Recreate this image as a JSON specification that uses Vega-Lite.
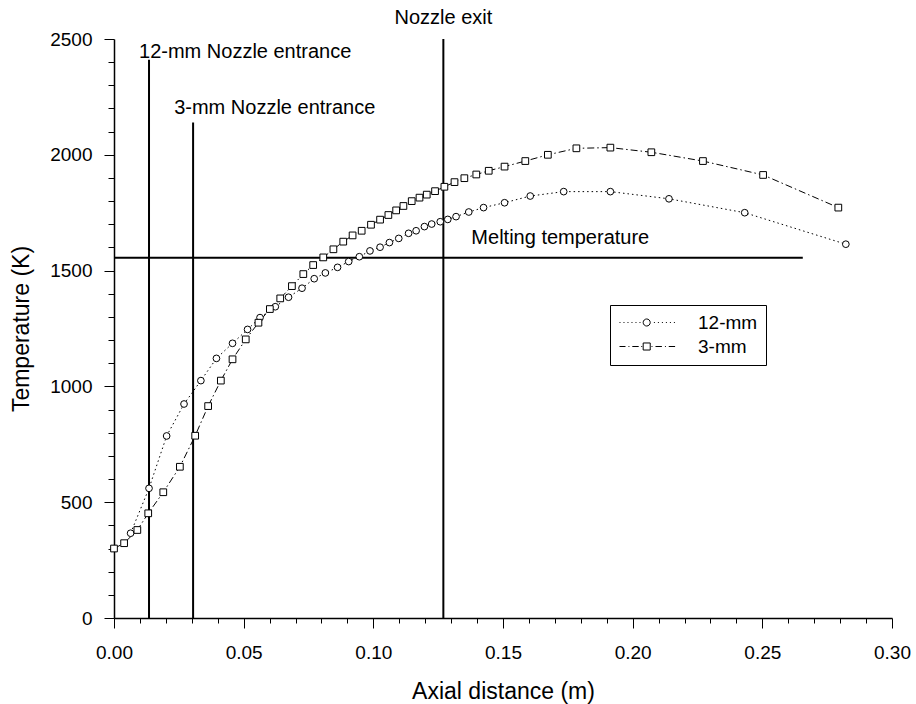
{
  "$schema": "https://vega.github.io/schema/vega-lite/v6.json",
  "width": 778,
  "height": 579,
  "autosize": {"type": "none"},
  "padding": {"left": 114, "top": 39, "right": 24, "bottom": 86},
  "background": "white",
  "config": {"view": {"stroke": null}, "font": "Liberation Sans", "axis": {"labelOverlap": false, "labelFlush": false}},
  "datasets": {
    "curves": [
      {"series": "12-mm", "x": 0.0064, "T": 366},
      {"series": "12-mm", "x": 0.0135, "T": 560},
      {"series": "12-mm", "x": 0.0203, "T": 786},
      {"series": "12-mm", "x": 0.0270, "T": 924},
      {"series": "12-mm", "x": 0.0335, "T": 1025},
      {"series": "12-mm", "x": 0.0395, "T": 1121},
      {"series": "12-mm", "x": 0.0457, "T": 1186},
      {"series": "12-mm", "x": 0.0515, "T": 1246},
      {"series": "12-mm", "x": 0.0563, "T": 1297},
      {"series": "12-mm", "x": 0.0622, "T": 1344},
      {"series": "12-mm", "x": 0.0673, "T": 1385},
      {"series": "12-mm", "x": 0.0725, "T": 1424},
      {"series": "12-mm", "x": 0.0772, "T": 1465},
      {"series": "12-mm", "x": 0.0815, "T": 1490},
      {"series": "12-mm", "x": 0.0862, "T": 1514},
      {"series": "12-mm", "x": 0.0905, "T": 1539},
      {"series": "12-mm", "x": 0.0946, "T": 1560},
      {"series": "12-mm", "x": 0.0987, "T": 1585},
      {"series": "12-mm", "x": 0.1026, "T": 1601},
      {"series": "12-mm", "x": 0.1062, "T": 1621},
      {"series": "12-mm", "x": 0.1098, "T": 1639},
      {"series": "12-mm", "x": 0.1136, "T": 1661},
      {"series": "12-mm", "x": 0.1165, "T": 1672},
      {"series": "12-mm", "x": 0.1197, "T": 1690},
      {"series": "12-mm", "x": 0.1225, "T": 1701},
      {"series": "12-mm", "x": 0.1258, "T": 1711},
      {"series": "12-mm", "x": 0.1287, "T": 1721},
      {"series": "12-mm", "x": 0.1319, "T": 1733},
      {"series": "12-mm", "x": 0.1368, "T": 1753},
      {"series": "12-mm", "x": 0.1425, "T": 1772},
      {"series": "12-mm", "x": 0.1506, "T": 1793},
      {"series": "12-mm", "x": 0.1605, "T": 1822},
      {"series": "12-mm", "x": 0.1734, "T": 1841},
      {"series": "12-mm", "x": 0.1914, "T": 1841},
      {"series": "12-mm", "x": 0.2140, "T": 1810},
      {"series": "12-mm", "x": 0.2432, "T": 1750},
      {"series": "12-mm", "x": 0.2822, "T": 1614},
      {"series": "3-mm", "x": 0.0000, "T": 300},
      {"series": "3-mm", "x": 0.0039, "T": 323},
      {"series": "3-mm", "x": 0.0090, "T": 380},
      {"series": "3-mm", "x": 0.0132, "T": 452},
      {"series": "3-mm", "x": 0.0190, "T": 543},
      {"series": "3-mm", "x": 0.0254, "T": 653},
      {"series": "3-mm", "x": 0.0313, "T": 787},
      {"series": "3-mm", "x": 0.0363, "T": 915},
      {"series": "3-mm", "x": 0.0412, "T": 1025},
      {"series": "3-mm", "x": 0.0457, "T": 1117},
      {"series": "3-mm", "x": 0.0508, "T": 1203},
      {"series": "3-mm", "x": 0.0557, "T": 1275},
      {"series": "3-mm", "x": 0.0601, "T": 1334},
      {"series": "3-mm", "x": 0.0641, "T": 1380},
      {"series": "3-mm", "x": 0.0686, "T": 1433},
      {"series": "3-mm", "x": 0.0730, "T": 1485},
      {"series": "3-mm", "x": 0.0768, "T": 1524},
      {"series": "3-mm", "x": 0.0807, "T": 1557},
      {"series": "3-mm", "x": 0.0846, "T": 1592},
      {"series": "3-mm", "x": 0.0884, "T": 1625},
      {"series": "3-mm", "x": 0.0920, "T": 1652},
      {"series": "3-mm", "x": 0.0955, "T": 1672},
      {"series": "3-mm", "x": 0.0991, "T": 1698},
      {"series": "3-mm", "x": 0.1026, "T": 1720},
      {"series": "3-mm", "x": 0.1058, "T": 1740},
      {"series": "3-mm", "x": 0.1088, "T": 1760},
      {"series": "3-mm", "x": 0.1116, "T": 1779},
      {"series": "3-mm", "x": 0.1148, "T": 1800},
      {"series": "3-mm", "x": 0.1178, "T": 1815},
      {"series": "3-mm", "x": 0.1206, "T": 1828},
      {"series": "3-mm", "x": 0.1238, "T": 1843},
      {"series": "3-mm", "x": 0.1274, "T": 1862},
      {"series": "3-mm", "x": 0.1313, "T": 1882},
      {"series": "3-mm", "x": 0.1351, "T": 1899},
      {"series": "3-mm", "x": 0.1397, "T": 1915},
      {"series": "3-mm", "x": 0.1445, "T": 1931},
      {"series": "3-mm", "x": 0.1506, "T": 1949},
      {"series": "3-mm", "x": 0.1586, "T": 1973},
      {"series": "3-mm", "x": 0.1673, "T": 2000},
      {"series": "3-mm", "x": 0.1783, "T": 2028},
      {"series": "3-mm", "x": 0.1914, "T": 2031},
      {"series": "3-mm", "x": 0.2072, "T": 2011},
      {"series": "3-mm", "x": 0.2271, "T": 1973},
      {"series": "3-mm", "x": 0.2503, "T": 1913},
      {"series": "3-mm", "x": 0.2793, "T": 1772}
    ],
    "refLines": [
      {"x": 0.0135, "x2": 0.0135, "T": 0, "T2": 2410},
      {"x": 0.0305, "x2": 0.0305, "T": 0, "T2": 2140},
      {"x": 0.127, "x2": 0.127, "T": 0, "T2": 2500},
      {"x": 0, "x2": 0.2656, "T": 1555, "T2": 1555}
    ],
    "notes": [
      {"label": "12-mm Nozzle entrance", "x": 0.00965, "T": 2444},
      {"label": "3-mm Nozzle entrance", "x": 0.0232, "T": 2202},
      {"label": "Melting temperature", "x": 0.1378, "T": 1641}
    ],
    "noteTop": [
      {"label": "Nozzle exit", "x": 0.127, "T": 2591}
    ]
  },
  "encoding": {
    "x": {
      "field": "x", "type": "quantitative", "title": "Axial distance (m)",
      "scale": {"domain": [0, 0.3], "nice": false, "zero": false},
      "axis": {
        "values": [0,0.01,0.02,0.03,0.04,0.05,0.06,0.07,0.08,0.09,0.1,0.11,0.12,0.13,0.14,0.15,0.16,0.17,0.18,0.19,0.2,0.21,0.22,0.23,0.24,0.25,0.26,0.27,0.28,0.29,0.3],
        "labelExpr": "abs(datum.value*20 - round(datum.value*20)) < 0.001 ? format(datum.value, '.2f') : ''",
        "tickSize": {"condition": {"test": "abs(datum.value*20 - round(datum.value*20)) < 0.001", "value": 10}, "value": 5},
        "labelPadding": 15,
        "labelFontSize": 19, "labelColor": "black", "labelFont": "Liberation Sans",
        "labelFlush": false, "labelOverlap": false,
        "tickColor": "black", "tickWidth": 1, "domainColor": "black", "domainWidth": 1.5,
        "grid": false,
        "titleFontSize": 23, "titleFontWeight": "normal", "titleColor": "black", "titleFont": "Liberation Sans", "titlePadding": 18
      }
    },
    "y": {
      "field": "T", "type": "quantitative", "title": "Temperature (K)",
      "scale": {"domain": [0, 2500], "nice": false},
      "axis": {
        "values": [0,100,200,300,400,500,600,700,800,900,1000,1100,1200,1300,1400,1500,1600,1700,1800,1900,2000,2100,2200,2300,2400,2500],
        "labelExpr": "datum.value % 500 === 0 ? format(datum.value, 'd') : ''",
        "tickSize": {"condition": {"test": "datum.value % 500 === 0", "value": 10}, "value": 6},
        "labelPadding": 12,
        "labelFontSize": 19, "labelColor": "black", "labelFont": "Liberation Sans",
        "labelFlush": false, "labelOverlap": false,
        "tickColor": "black", "tickWidth": 1, "domainColor": "black", "domainWidth": 1.5,
        "grid": false,
        "titleFontSize": 23, "titleFontWeight": "normal", "titleColor": "black", "titleFont": "Liberation Sans", "titlePadding": 16
      }
    }
  },
  "resolve": {"scale": {"shape": "independent"}},
  "layer": [
    {
      "data": {"name": "refLines"},
      "mark": {"type": "rule", "color": "black", "strokeWidth": 2},
      "encoding": {
        "x2": {"field": "x2"},
        "y2": {"field": "T2"}
      }
    },
    {
      "data": {"name": "curves"},
      "mark": {"type": "line", "color": "black", "strokeWidth": 1},
      "encoding": {
        "strokeDash": {
          "field": "series", "type": "nominal",
          "scale": {"domain": ["12-mm", "3-mm"], "range": [[1.5, 3], [7, 3, 1.5, 3]]},
          "legend": null
        }
      }
    },
    {
      "data": {"name": "curves"},
      "mark": {"type": "point", "filled": true, "fill": "white", "stroke": "black", "strokeWidth": 1, "opacity": 1},
      "encoding": {
        "shape": {
          "field": "series", "type": "nominal",
          "scale": {"domain": ["12-mm", "3-mm"], "range": ["circle", "square"]},
          "legend": null
        },
        "size": {"value": 45}
      }
    },
    {
      "data": {"values": []},
      "mark": {"type": "point", "filled": false, "color": "black", "strokeWidth": 1, "opacity": 1},
      "encoding": {
        "shape": {
          "field": "series", "type": "nominal",
          "scale": {
            "domain": ["12-mm", "3-mm"],
            "range": [
              "M-1,0h0.12M-0.5,0h0.12M0,0h0.12M0.5,0h0.12M1,0h0.12M1.5,0h0.12M3.3,0h0.12M3.8,0h0.12M4.3,0h0.12M4.8,0h0.12M5.3,0h0.12M5.8,0h0.12M2.84,0A0.44,0.44 0 1 1 1.96,0A0.44,0.44 0 1 1 2.84,0Z",
              "M-1,0H-0.25M0.12,0h0.12M0.6,0H1.4M1.72,0h0.12M1.96,-0.44H2.84V0.44H1.96ZM3.0,0h0.12M3.5,0H4.3M4.68,0h0.12M5.16,0H5.95"
            ]
          },
          "legend": {
            "orient": "none", "legendX": 496, "legendY": 266,
            "title": null,
            "strokeColor": "black", "fillColor": "white", "padding": 8,
            "symbolSize": 256, "symbolStrokeWidth": 1, "symbolStrokeColor": "black", "symbolFillColor": "white", "symbolOpacity": 1,
            "labelFontSize": 19, "labelFont": "Liberation Sans", "labelColor": "black",
            "labelOffset": 61, "rowPadding": 4
          }
        }
      }
    },
    {
      "data": {"name": "notes"},
      "mark": {"type": "text", "align": "left", "baseline": "middle", "fontSize": 20, "font": "Liberation Sans", "color": "black"},
      "encoding": {
        "text": {"field": "label"}
      }
    },
    {
      "data": {"name": "noteTop"},
      "mark": {"type": "text", "align": "center", "baseline": "middle", "fontSize": 20, "font": "Liberation Sans", "color": "black"},
      "encoding": {
        "text": {"field": "label"}
      }
    }
  ]
}
